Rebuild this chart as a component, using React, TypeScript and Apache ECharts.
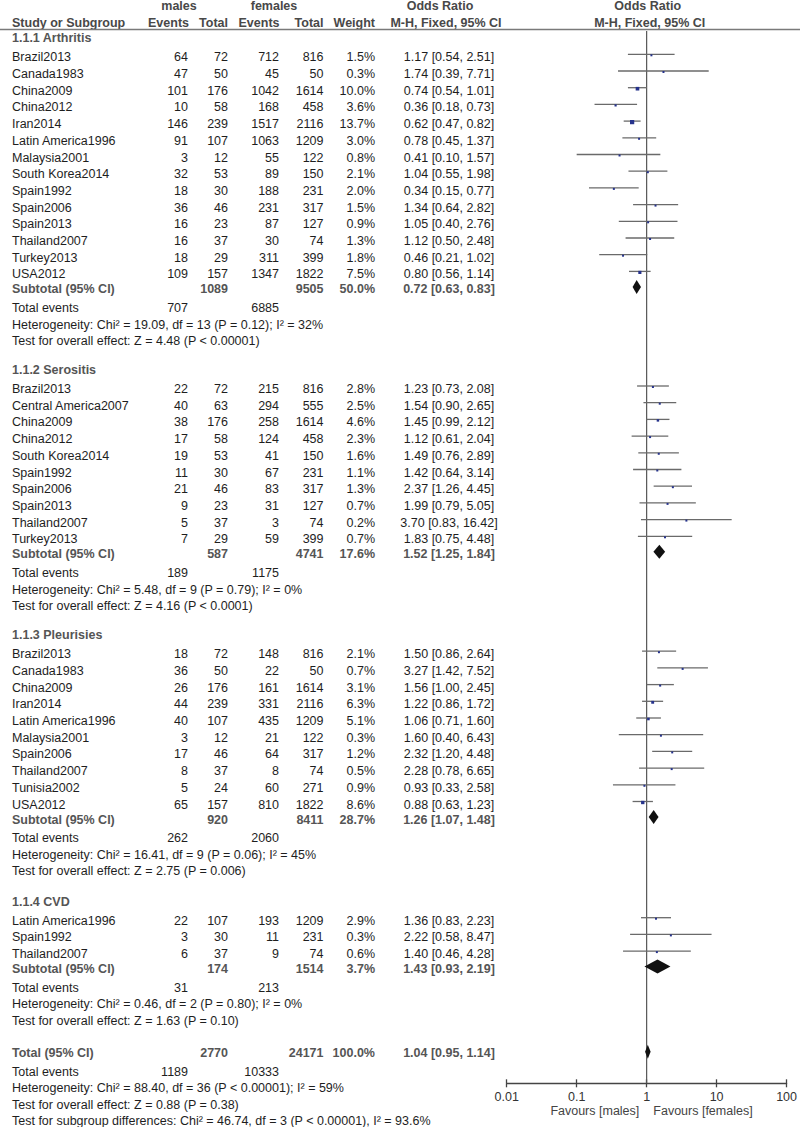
import React, { useEffect, useRef } from "react";
import * as echarts from "echarts";

// ---------- DATA ----------
const groupTitles = ["1.1.1 Arthritis", "1.1.2 Serositis", "1.1.3 Pleurisies", "1.1.4 CVD"];

// [study, males events, males total, females events, females total, weight %, OR, lower, upper]
const arthritis: [string, number, number, number, number, number, number, number, number][] = [
  ["Brazil2013", 64, 72, 712, 816, 1.5, 1.17, 0.54, 2.51],
  ["Canada1983", 47, 50, 45, 50, 0.3, 1.74, 0.39, 7.71],
  ["China2009", 101, 176, 1042, 1614, 10.0, 0.74, 0.54, 1.01],
  ["China2012", 10, 58, 168, 458, 3.6, 0.36, 0.18, 0.73],
  ["Iran2014", 146, 239, 1517, 2116, 13.7, 0.62, 0.47, 0.82],
  ["Latin America1996", 91, 107, 1063, 1209, 3.0, 0.78, 0.45, 1.37],
  ["Malaysia2001", 3, 12, 55, 122, 0.8, 0.41, 0.10, 1.57],
  ["South Korea2014", 32, 53, 89, 150, 2.1, 1.04, 0.55, 1.98],
  ["Spain1992", 18, 30, 188, 231, 2.0, 0.34, 0.15, 0.77],
  ["Spain2006", 36, 46, 231, 317, 1.5, 1.34, 0.64, 2.82],
  ["Spain2013", 16, 23, 87, 127, 0.9, 1.05, 0.40, 2.76],
  ["Thailand2007", 16, 37, 30, 74, 1.3, 1.12, 0.50, 2.48],
  ["Turkey2013", 18, 29, 311, 399, 1.8, 0.46, 0.21, 1.02],
  ["USA2012", 109, 157, 1347, 1822, 7.5, 0.80, 0.56, 1.14],
];

const serositis: [string, number, number, number, number, number, number, number, number][] = [
  ["Brazil2013", 22, 72, 215, 816, 2.8, 1.23, 0.73, 2.08],
  ["Central America2007", 40, 63, 294, 555, 2.5, 1.54, 0.90, 2.65],
  ["China2009", 38, 176, 258, 1614, 4.6, 1.45, 0.99, 2.12],
  ["China2012", 17, 58, 124, 458, 2.3, 1.12, 0.61, 2.04],
  ["South Korea2014", 19, 53, 41, 150, 1.6, 1.49, 0.76, 2.89],
  ["Spain1992", 11, 30, 67, 231, 1.1, 1.42, 0.64, 3.14],
  ["Spain2006", 21, 46, 83, 317, 1.3, 2.37, 1.26, 4.45],
  ["Spain2013", 9, 23, 31, 127, 0.7, 1.99, 0.79, 5.05],
  ["Thailand2007", 5, 37, 3, 74, 0.2, 3.70, 0.83, 16.42],
  ["Turkey2013", 7, 29, 59, 399, 0.7, 1.83, 0.75, 4.48],
];

const pleurisies: [string, number, number, number, number, number, number, number, number][] = [
  ["Brazil2013", 18, 72, 148, 816, 2.1, 1.50, 0.86, 2.64],
  ["Canada1983", 36, 50, 22, 50, 0.7, 3.27, 1.42, 7.52],
  ["China2009", 26, 176, 161, 1614, 3.1, 1.56, 1.00, 2.45],
  ["Iran2014", 44, 239, 331, 2116, 6.3, 1.22, 0.86, 1.72],
  ["Latin America1996", 40, 107, 435, 1209, 5.1, 1.06, 0.71, 1.60],
  ["Malaysia2001", 3, 12, 21, 122, 0.3, 1.60, 0.40, 6.43],
  ["Spain2006", 17, 46, 64, 317, 1.2, 2.32, 1.20, 4.48],
  ["Thailand2007", 8, 37, 8, 74, 0.5, 2.28, 0.78, 6.65],
  ["Tunisia2002", 5, 24, 60, 271, 0.9, 0.93, 0.33, 2.58],
  ["USA2012", 65, 157, 810, 1822, 8.6, 0.88, 0.63, 1.23],
];

const cvd: [string, number, number, number, number, number, number, number, number][] = [
  ["Latin America1996", 22, 107, 193, 1209, 2.9, 1.36, 0.83, 2.23],
  ["Spain1992", 3, 30, 11, 231, 0.3, 2.22, 0.58, 8.47],
  ["Thailand2007", 6, 37, 9, 74, 0.6, 1.40, 0.46, 4.28],
];

// [males total, females total, weight %, OR, lower, upper]
const subtotals: number[][] = [
  [1089, 9505, 50.0, 0.72, 0.63, 0.83],
  [587, 4741, 17.6, 1.52, 1.25, 1.84],
  [920, 8411, 28.7, 1.26, 1.07, 1.48],
  [174, 1514, 3.7, 1.43, 0.93, 2.19],
];
const subtotalEvents: number[][] = [
  [707, 6885],
  [189, 1175],
  [262, 2060],
  [31, 213],
];
const heterogeneityNotes = [
  "Heterogeneity: Chi² = 19.09, df = 13 (P = 0.12); I² = 32%",
  "Heterogeneity: Chi² = 5.48, df = 9 (P = 0.79); I² = 0%",
  "Heterogeneity: Chi² = 16.41, df = 9 (P = 0.06); I² = 45%",
  "Heterogeneity: Chi² = 0.46, df = 2 (P = 0.80); I² = 0%",
];
const effectNotes = [
  "Test for overall effect: Z = 4.48 (P < 0.00001)",
  "Test for overall effect: Z = 4.16 (P < 0.0001)",
  "Test for overall effect: Z = 2.75 (P = 0.006)",
  "Test for overall effect: Z = 1.63 (P = 0.10)",
];

const overall = [2770, 24171, 100.0, 1.04, 0.95, 1.14];
const overallEvents = [1189, 10333];
const overallNotes = [
  "Heterogeneity: Chi² = 88.40, df = 36 (P < 0.00001); I² = 59%",
  "Test for overall effect: Z = 0.88 (P = 0.38)",
  "Test for subgroup differences: Chi² = 46.74, df = 3 (P < 0.00001), I² = 93.6%",
];

const tickValues = [0.01, 0.1, 1, 10, 100];
const tickLabels = ["0.01", "0.1", "1", "10", "100"];
const favourLabels = ["Favours [males]", "Favours [females]"];

const groups = [arthritis, serositis, pleurisies, cvd];

// ---------- LAYOUT ----------
const W = 800;
const H = 1127;
const FONT = '"Liberation Sans", Arial, Helvetica, sans-serif';
const FS = 12.5;
const COL = { study: 12, mEv: 188, mTot: 228, fEv: 279, fTot: 323.5, w: 375, or: 449 };
const groupHeaderY = [38.3, 370, 635.2, 901.7];
const totalRowY = 1052.7;
const PITCH = 16.7;
const AXIS_Y = 1083.3;
const PLOT_LEFT = 506.7;
const PLOT_RIGHT = 788.7;
const TEXT_DARK = "#1e1e1e";
const TEXT_GRAY = "#555555";
const HEAD_GRAY = "#484848";

function txt(text: string, x: number, y: number, align = "left", bold = false, color = TEXT_DARK): any {
  return {
    type: "text",
    x,
    y,
    silent: true,
    style: {
      text,
      font: `${bold ? "bold " : ""}${FS}px ${FONT}`,
      fill: color,
      align,
      verticalAlign: "middle",
      textAlign: align,
      textVerticalAlign: "middle",
    },
  };
}

const fmtCI = (o: number, l: number, u: number) => `${o.toFixed(2)} [${l.toFixed(2)}, ${u.toFixed(2)}]`;

export default function App() {
  const ref = useRef<HTMLDivElement>(null);

  useEffect(() => {
    if (!ref.current) return;
    const chart = echarts.init(ref.current, null, { renderer: "svg" });

    const graphics: any[] = [];
    const studyMarks: number[][] = [];
    const diamondMarks: number[][] = [];

    // header
    graphics.push(txt("males", 179, 6, "center", true, HEAD_GRAY));
    graphics.push(txt("females", 274, 6, "center", true, HEAD_GRAY));
    graphics.push(txt("Odds Ratio", 440, 6, "center", true, HEAD_GRAY));
    graphics.push(txt("Odds Ratio", 647.7, 6, "center", true, HEAD_GRAY));
    graphics.push(txt("Study or Subgroup", COL.study, 22.7, "left", true, HEAD_GRAY));
    graphics.push(txt("Events", COL.mEv + 1, 22.7, "right", true, HEAD_GRAY));
    graphics.push(txt("Total", COL.mTot, 22.7, "right", true, HEAD_GRAY));
    graphics.push(txt("Events", COL.fEv + 0.5, 22.7, "right", true, HEAD_GRAY));
    graphics.push(txt("Total", COL.fTot, 22.7, "right", true, HEAD_GRAY));
    graphics.push(txt("Weight", COL.w, 22.7, "right", true, HEAD_GRAY));
    graphics.push(txt("M-H, Fixed, 95% CI", 446, 22.7, "center", true, HEAD_GRAY));
    graphics.push(txt("M-H, Fixed, 95% CI", 649.7, 22.7, "center", true, HEAD_GRAY));
    graphics.push({
      type: "line",
      silent: true,
      shape: { x1: 0, y1: 29.5, x2: W, y2: 29.5 },
      style: { stroke: "#7a7a7a", lineWidth: 1.5 },
    });

    groups.forEach((rows, gi) => {
      const hy = groupHeaderY[gi];
      graphics.push(txt(groupTitles[gi], COL.study, hy, "left", true, TEXT_GRAY));
      let y = hy + 19;
      rows.forEach((r, i) => {
        const ry = y + i * PITCH;
        graphics.push(txt(r[0], COL.study, ry));
        graphics.push(txt(String(r[1]), COL.mEv, ry, "right"));
        graphics.push(txt(String(r[2]), COL.mTot, ry, "right"));
        graphics.push(txt(String(r[3]), COL.fEv, ry, "right"));
        graphics.push(txt(String(r[4]), COL.fTot, ry, "right"));
        graphics.push(txt(`${r[5].toFixed(1)}%`, COL.w, ry, "right"));
        graphics.push(txt(fmtCI(r[6], r[7], r[8]), COL.or, ry, "center"));
        studyMarks.push([r[6], r[7], r[8], ry - 3, r[5]]);
      });
      const lastY = y + (rows.length - 1) * PITCH;
      const sy = lastY + 15;
      const s = subtotals[gi];
      graphics.push(txt("Subtotal (95% CI)", COL.study, sy, "left", true, TEXT_GRAY));
      graphics.push(txt(String(s[0]), COL.mTot, sy, "right", true, TEXT_GRAY));
      graphics.push(txt(String(s[1]), COL.fTot, sy, "right", true, TEXT_GRAY));
      graphics.push(txt(`${s[2].toFixed(1)}%`, COL.w, sy, "right", true, TEXT_GRAY));
      graphics.push(txt(fmtCI(s[3], s[4], s[5]), COL.or, sy, "center", true, TEXT_GRAY));
      diamondMarks.push([s[3], s[4], s[5], sy - 2.5]);
      const ty = sy + 18.5;
      graphics.push(txt("Total events", COL.study, ty));
      graphics.push(txt(String(subtotalEvents[gi][0]), COL.mEv, ty, "right"));
      graphics.push(txt(String(subtotalEvents[gi][1]), COL.fEv, ty, "right"));
      graphics.push(txt(heterogeneityNotes[gi], COL.study, ty + PITCH));
      graphics.push(txt(effectNotes[gi], COL.study, ty + 2 * PITCH));
    });

    // overall
    const oy = totalRowY;
    graphics.push(txt("Total (95% CI)", COL.study, oy, "left", true, TEXT_GRAY));
    graphics.push(txt(String(overall[0]), COL.mTot, oy, "right", true, TEXT_GRAY));
    graphics.push(txt(String(overall[1]), COL.fTot, oy, "right", true, TEXT_GRAY));
    graphics.push(txt(`${overall[2].toFixed(1)}%`, COL.w, oy, "right", true, TEXT_GRAY));
    graphics.push(txt(fmtCI(overall[3], overall[4], overall[5]), COL.or, oy, "center", true, TEXT_GRAY));
    diamondMarks.push([overall[3], overall[4], overall[5], oy - 1]);
    const oty = oy + 19;
    graphics.push(txt("Total events", COL.study, oty));
    graphics.push(txt(String(overallEvents[0]), COL.mEv, oty, "right"));
    graphics.push(txt(String(overallEvents[1]), COL.fEv, oty, "right"));
    overallNotes.forEach((n, i) => graphics.push(txt(n, COL.study, oty + (i + 1) * 16.4)));

    // favours labels
    graphics.push(txt(favourLabels[0], 639.3, 1110.7, "right", false, "#444"));
    graphics.push(txt(favourLabels[1], 653.3, 1110.7, "left", false, "#444"));

    const xAxisBase = {
      type: "log",
      logBase: 10,
      min: tickValues[0],
      max: tickValues[tickValues.length - 1],
      gridIndex: 0,
      position: "bottom",
      offset: 0,
      splitLine: { show: false },
      minorTick: { show: false },
    };

    chart.setOption({
      animation: false,
      backgroundColor: "#ffffff",
      grid: { left: PLOT_LEFT, right: W - PLOT_RIGHT, top: 0, height: AXIS_Y, containLabel: false },
      xAxis: [
        {
          ...xAxisBase,
          axisLine: { show: true, onZero: false, lineStyle: { color: "#444", width: 1.3 } },
          axisTick: { show: true, inside: false, length: 4, lineStyle: { color: "#444", width: 1.3 } },
          axisLabel: {
            show: true,
            margin: 7,
            color: "#333",
            fontSize: FS,
            fontFamily: FONT,
            formatter: (v: number) => {
              const idx = tickValues.findIndex((t) => Math.abs(Math.log10(t) - Math.log10(v)) < 1e-6);
              return idx >= 0 ? tickLabels[idx] : "";
            },
          },
        },
        {
          ...xAxisBase,
          axisLine: { show: false, onZero: false },
          axisTick: { show: true, inside: true, length: 4, lineStyle: { color: "#444", width: 1.3 } },
          axisLabel: { show: false },
        },
      ],
      yAxis: { type: "value", min: 0, max: AXIS_Y, inverse: true, show: false },
      graphic: { elements: graphics },
      series: [
        {
          type: "line",
          data: [
            [1, 31],
            [1, AXIS_Y],
          ],
          symbol: "none",
          silent: true,
          lineStyle: { color: "#555", width: 1.2 },
          z: 1,
        },
        {
          type: "custom",
          silent: true,
          z: 3,
          encode: { x: [0, 1, 2], y: 3 },
          data: studyMarks,
          renderItem: (params: any, api: any) => {
            const y = api.value(3);
            const p1 = api.coord([api.value(1), y]);
            const p2 = api.coord([api.value(2), y]);
            const c = api.coord([api.value(0), y]);
            const s = Math.max(2, Math.sqrt(api.value(4)) * 1.15);
            return {
              type: "group",
              children: [
                {
                  type: "line",
                  shape: { x1: p1[0], y1: p1[1], x2: p2[0], y2: p2[1] },
                  style: { stroke: "#6a6a6a", lineWidth: 1.3 },
                },
                {
                  type: "rect",
                  shape: { x: c[0] - s / 2, y: c[1] - s / 2 + 1, width: s, height: s },
                  style: { fill: "#26338c" },
                },
              ],
            };
          },
        },
        {
          type: "custom",
          silent: true,
          z: 4,
          encode: { x: [0, 1, 2], y: 3 },
          data: diamondMarks,
          renderItem: (params: any, api: any) => {
            const y = api.value(3);
            const l = api.coord([api.value(1), y]);
            const r = api.coord([api.value(2), y]);
            const c = api.coord([api.value(0), y]);
            return {
              type: "polygon",
              shape: {
                points: [
                  [l[0], c[1]],
                  [c[0], c[1] - 7],
                  [r[0], c[1]],
                  [c[0], c[1] + 7],
                ],
              },
              style: { fill: "#111" },
            };
          },
        },
      ],
    });

    return () => chart.dispose();
  }, []);

  return (
    <div
      ref={ref}
      style={{ position: "absolute", left: 0, top: 0, width: W, height: H, background: "#fff" }}
    />
  );
}
